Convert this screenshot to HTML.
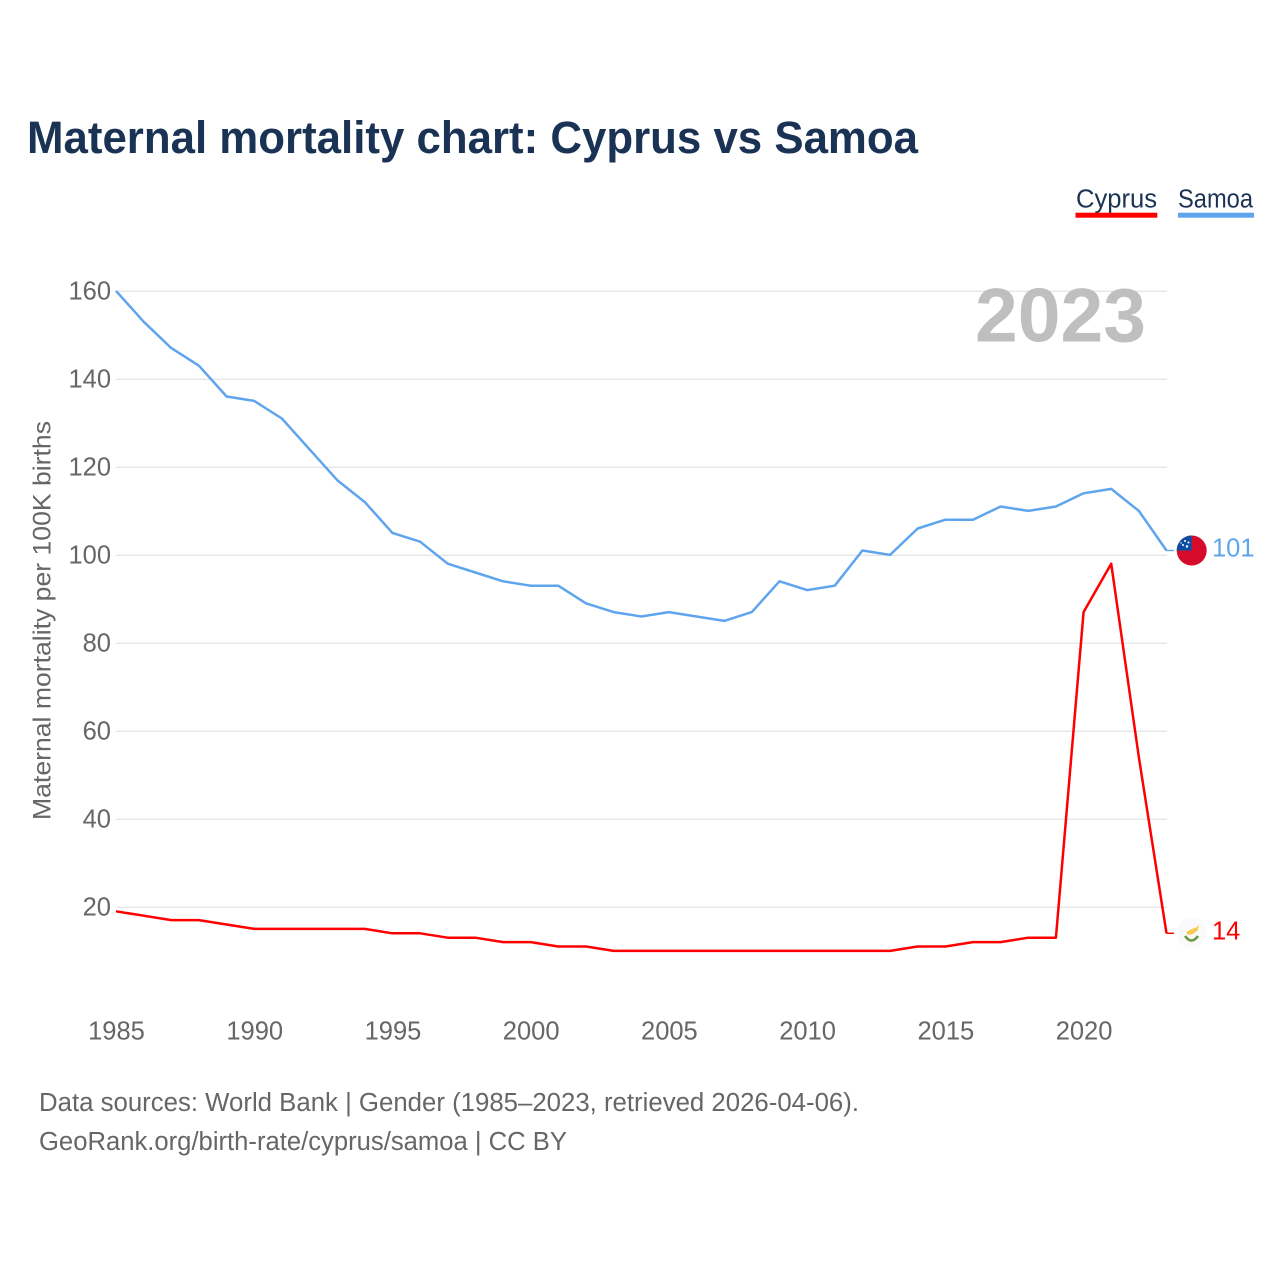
<!DOCTYPE html>
<html lang="en">
<head>
<meta charset="utf-8">
<title>Maternal mortality chart: Cyprus vs Samoa</title>
<style>
html,body{margin:0;padding:0;background:#fff;}
svg{display:block;font-family:"Liberation Sans",sans-serif;}
</style>
</head>
<body>
<svg id="chart" xmlns="http://www.w3.org/2000/svg" width="1280" height="1280" viewBox="0 0 1280 1280">
  <defs>
    <clipPath id="samoa-clip"><circle cx="1191.7" cy="550.5" r="15"/></clipPath>
  </defs>
  <rect width="1280" height="1280" fill="#ffffff"/>
  <text x="27" y="153" font-size="45" font-weight="700" fill="#1a3354" textLength="891" lengthAdjust="spacingAndGlyphs">Maternal mortality chart: Cyprus vs Samoa</text>

  <text x="1076" y="207.5" font-size="25.5" fill="#1a3354" textLength="81" lengthAdjust="spacingAndGlyphs">Cyprus</text>
  <rect x="1075.5" y="212.7" width="81.8" height="5" fill="#ff0000"/>
  <text x="1178" y="207.5" font-size="25.5" fill="#1a3354" textLength="75" lengthAdjust="spacingAndGlyphs">Samoa</text>
  <rect x="1178" y="212.7" width="76" height="5" fill="#5fa5ee"/>

  <g id="grid"></g>
  <g id="yticks"></g>
  <g id="xticks"></g>

  <text x="975" y="341.5" font-size="76" font-weight="700" fill="#bfbfbf" textLength="171" lengthAdjust="spacingAndGlyphs">2023</text>

  <text transform="translate(50.5,820) rotate(-90)" x="0" y="0" font-size="25" fill="#666666" textLength="399" lengthAdjust="spacingAndGlyphs">Maternal mortality per 100K births</text>

  <g id="series"></g>

  <g>
    <circle cx="1191.7" cy="550.5" r="15" fill="#d60a2b"/>
    <rect x="1176" y="535" width="15.7" height="15.5" fill="#0b4ea2" clip-path="url(#samoa-clip)"/>
    <circle cx="1185" cy="541" r="1" fill="#fff"/>
    <circle cx="1188.5" cy="542.5" r="1" fill="#fff"/>
    <circle cx="1183" cy="545" r="1" fill="#fff"/>
    <circle cx="1187" cy="546.5" r="1.2" fill="#fff"/>
    <circle cx="1181" cy="543" r=".7" fill="#fff"/>
  </g>
  <g>
    <circle cx="1191.7" cy="933" r="15" fill="#fafafa"/>
    <path d="M1186 932 L1192 929 L1197 927 L1199 925 L1198 930 L1193 934 L1188 935 Z" fill="#f7c94f"/>
    <path d="M1185 936 Q1191.5 945 1198 936" fill="none" stroke="#6a9a45" stroke-width="2.6"/>
  </g>

  <text id="samoa-value" x="1212" y="556.5" font-size="25.5" fill="#5fa5ee"></text>
  <text id="cyprus-value" x="1212" y="939.5" font-size="25.5" fill="#ff0000"></text>

  <text x="39" y="1111" font-size="25.5" fill="#666666" textLength="820" lengthAdjust="spacingAndGlyphs">Data sources: World Bank | Gender (1985–2023, retrieved 2026-04-06).</text>
  <text x="39" y="1150" font-size="25.5" fill="#666666" textLength="528" lengthAdjust="spacingAndGlyphs">GeoRank.org/birth-rate/cyprus/samoa | CC BY</text>
</svg>
<script>
const years = [1985,1986,1987,1988,1989,1990,1991,1992,1993,1994,1995,1996,1997,1998,1999,2000,2001,2002,2003,2004,2005,2006,2007,2008,2009,2010,2011,2012,2013,2014,2015,2016,2017,2018,2019,2020,2021,2022,2023];
const samoaValues = [160,153,147,143,136,135,131,124,117,112,105,103,98,96,94,93,93,89,87,86,87,86,85,87,94,92,93,101,100,106,108,108,111,110,111,114,115,110,101];
const cyprusValues = [19,18,17,17,16,15,15,15,15,15,14,14,13,13,12,12,11,11,10,10,10,10,10,10,10,10,10,10,10,11,11,12,12,13,13,87,98,54,14];
const yTickValues = [20,40,60,80,100,120,140,160];
const xTickValues = [1985,1990,1995,2000,2005,2010,2015,2020];

const NS = 'http://www.w3.org/2000/svg';
function xScale(year){ return 116 + (year - 1985) * (1166.5 - 116) / 38; }
function yScale(v){ return 555.3 - (v - 100) * 4.4; }
function make(tag, attrs, parent){
  const el = document.createElementNS(NS, tag);
  for (const k in attrs) el.setAttribute(k, attrs[k]);
  parent.appendChild(el);
  return el;
}
const grid = document.getElementById('grid');
const yticks = document.getElementById('yticks');
const xticks = document.getElementById('xticks');
const series = document.getElementById('series');

yTickValues.forEach(function(v){
  const line = make('line', {x1:116.5, x2:1167, y1:yScale(v), y2:yScale(v), stroke:'#e6e6e6', 'stroke-width':1.4}, grid);
  
  
  const t = make('text', {x:111, y:yScale(v) + 8, 'text-anchor':'end', 'font-size':25.5, fill:'#666666'}, yticks);
  
  
  t.textContent = v;
});
xTickValues.forEach(function(y){
  const t = make('text', {x:xScale(y) + 0.5, y:1039.5, 'text-anchor':'middle', 'font-size':25.5, fill:'#666666'}, xticks);
  
  
  t.textContent = y;
});
function drawSeries(values, color, name){
  const pts = values.map(function(v, i){ return xScale(years[i]).toFixed(2) + ',' + (yScale(v) - 0.4).toFixed(2); });
  const last = values[values.length - 1];
  const path = make('polyline', {points:pts.join(' '), fill:'none', stroke:color, 'stroke-width':2.5, 'stroke-linejoin':'round'}, series);
  
  
  const conn = make('line', {x1:xScale(years[years.length - 1]), x2:1174, y1:yScale(last) - 0.4, y2:yScale(last) - 0.4, stroke:color, 'stroke-width':1.4}, series);
  
  
  document.getElementById(name + '-value').textContent = last;
}
drawSeries(samoaValues, '#5fa5ee', 'samoa');
drawSeries(cyprusValues, '#ff0000', 'cyprus');
</script>
</body>
</html>
